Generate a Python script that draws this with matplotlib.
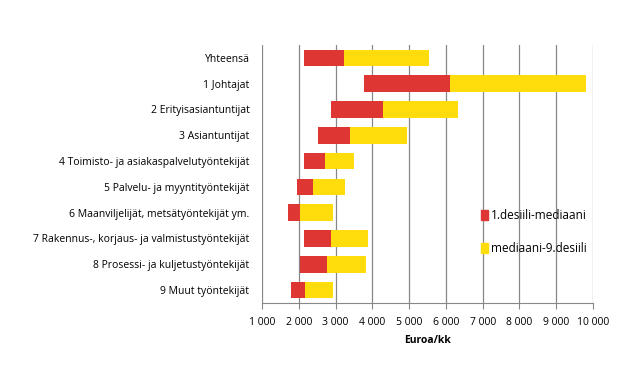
import matplotlib
matplotlib.use("Agg")
import matplotlib.pyplot as plt
from matplotlib.patches import Patch
from matplotlib.ticker import FuncFormatter

categories = ["Yhteensä", "1 Johtajat", "2 Erityisasiantuntijat", "3 Asiantuntijat",
              "4 Toimisto- ja asiakaspalvelutyöntekijät", "5 Palvelu- ja myyntityöntekijät",
              "6 Maanviljelijät, metsätyöntekijät ym.",
              "7 Rakennus-, korjaus- ja valmistustyöntekijät",
              "8 Prosessi- ja kuljetustyöntekijät", "9 Muut työntekijät"]
decile1 = [2130, 3760, 2870, 2510, 2130, 1940, 1700, 2130, 2020, 1800]
median = [3220, 6100, 4280, 3390, 2700, 2380, 2020, 2870, 2760, 2180]
decile9 = [5530, 9820, 6340, 4930, 3510, 3270, 2940, 3870, 3840, 2940]
series_names = ["1.desiili-mediaani", "mediaani-9.desiili"]
xticks = [1000, 2000, 3000, 4000, 5000, 6000, 7000, 8000, 9000, 10000]

red = "#DD3633"
yellow = "#FFDC0B"

plt.rcParams['font.family'] = ['Open Sans', 'DejaVu Sans']

fig = plt.figure(figsize=(6.34, 3.65), dpi=100)
ax = fig.add_axes([262/634, 62/365, 331/634, 258/365])

y = list(range(len(categories)))
red_w = [m - d for m, d in zip(median, decile1)]
yel_w = [d9 - m for d9, m in zip(decile9, median)]
ax.barh(y, red_w, left=decile1, height=0.65, color=red, zorder=3)
ax.barh(y, yel_w, left=median, height=0.65, color=yellow, zorder=3)

ax.set_xlim(1000, 10000)
ax.set_ylim(len(categories) - 0.5, -0.5)
ax.set_xticks(xticks)
ax.xaxis.set_major_formatter(FuncFormatter(lambda v, p: f"{int(v):,}".replace(",", " ")))
ax.set_yticks(y)
ax.set_yticklabels(categories, fontsize=7.5)
ax.tick_params(axis='y', length=0, pad=9)
ax.tick_params(axis='x', length=4, color='#888888', labelsize=7.5, pad=6)
ax.grid(axis='x', color='#888888', linewidth=0.9, zorder=0)
for s in ['top', 'right', 'left']:
    ax.spines[s].set_visible(False)
ax.spines['bottom'].set_color('#888888')
ax.set_xlabel("Euroa/kk", fontsize=7.5, fontweight='bold', labelpad=5)

handles = [Patch(color=red), Patch(color=yellow)]
fig.legend(handles, series_names, loc='upper left', bbox_to_anchor=(476/634, 1 - 204/365),
           frameon=False, fontsize=8.5, handlelength=0.6, handleheight=0.9,
           handletextpad=0.3, labelspacing=1.75, borderaxespad=0)

fig.savefig("out.png", dpi=100)
